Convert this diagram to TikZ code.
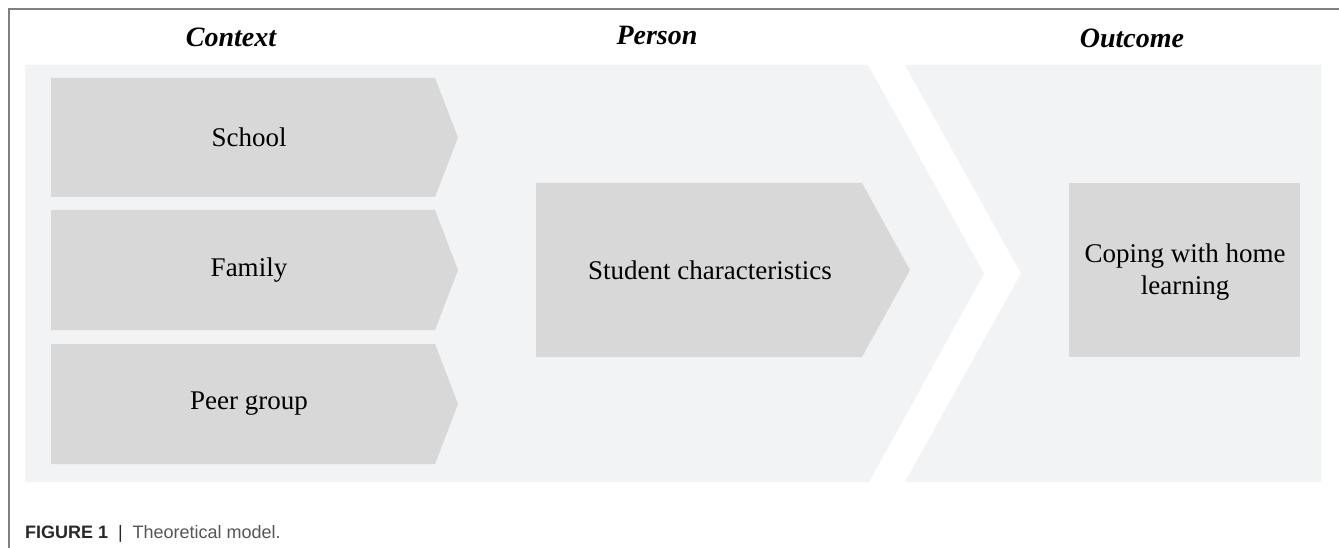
\documentclass[tikz,border=0pt]{standalone}
\usepackage{fontspec}
\setmainfont{Liberation Serif}
\newfontfamily\capfont{Liberation Sans}
\definecolor{panelbg}{RGB}{242,243,244}
\definecolor{boxbg}{RGB}{217,216,216}
\definecolor{framegray}{RGB}{128,128,128}
\definecolor{capdark}{RGB}{40,40,40}
\definecolor{capgray}{RGB}{85,85,85}
\tikzset{
  panel/.style={fill=panelbg, draw=none},
  chevbox/.style={fill=boxbg, draw=none},
  label/.style={font=\fontsize{27}{32}\selectfont, text=black, align=center, inner sep=0pt},
  header/.style={font=\fontsize{28}{32}\selectfont\bfseries\itshape, text=black, anchor=base, inner sep=0pt},
}
\begin{document}
\begin{tikzpicture}[x=1pt,y=-1pt]
\useasboundingbox (0,0) rectangle (1339,548);
% frame
\draw[framegray, line width=1.3pt] (1339,9) -- (9,9) -- (9,548);
% panels
\path[panel] (25,65) -- (868,65) -- (984,273.5) -- (869,482) -- (25,482) -- cycle;
\path[panel] (905,65) -- (1321,65) -- (1321,482) -- (905,482) -- (1021,273.5) -- cycle;
% headers
\node[header] (hctx) at (231,47) {Context};
\node[header] (hper) at (657,45) {Person};
\node[header] (hout) at (1132,48) {Outcome};
% context boxes
\path[chevbox] (51,78) -- (435,78) -- (458,137.5) -- (435,197) -- (51,197) -- cycle;
\path[chevbox] (51,210) -- (435,210) -- (458,270) -- (435,330) -- (51,330) -- cycle;
\path[chevbox] (51,344) -- (435,344) -- (458,404) -- (435,464) -- (51,464) -- cycle;
\node[label] (school) at (249,137.5) {School};
\node[label] (family) at (249,270) {Family};
\node[label] (peer) at (249,404) {Peer group};
% person box
\path[chevbox] (536,183) -- (862,183) -- (910,270) -- (862,357) -- (536,357) -- cycle;
\node[label] (student) at (710,270) {Student characteristics};
% outcome box
\path[chevbox] (1069,183) rectangle (1300,357);
\node[label] (coping) at (1185,272) {Coping with home\\learning};
% caption
\node[anchor=base west, inner sep=0pt, font=\capfont\fontsize{18}{20}\selectfont] (cap) at (25,538)
  {\textcolor{capdark}{\bfseries FIGURE 1}\hspace{0.55em}\textcolor{capdark}{|}\hspace{0.55em}\textcolor{capgray}{Theoretical model.}};
\end{tikzpicture}
\end{document}
